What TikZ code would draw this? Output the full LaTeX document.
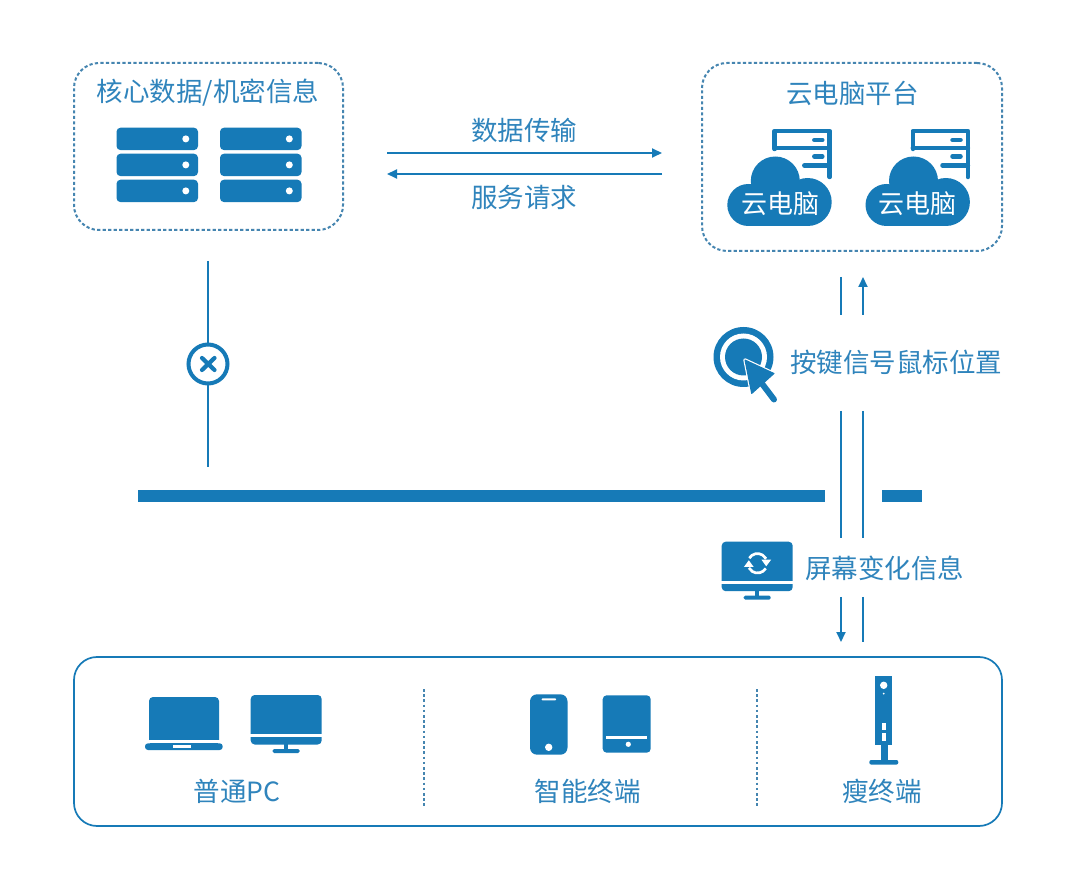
\documentclass[tikz,border=0pt]{standalone}
\usepackage{fontspec}
\setmainfont{Noto Sans CJK SC}
\usetikzlibrary{arrows.meta}
\definecolor{brand}{HTML}{167AB7}
\definecolor{labelblue}{HTML}{2F84BC}
\definecolor{dotline}{HTML}{4585B0}
\tikzset{
  label26/.style={text=labelblue,font=\fontsize{26.5}{30}\selectfont,inner sep=0pt},
  cloudtext/.style={text=white,font=\fontsize{26}{30}\selectfont,inner sep=0pt},
  dotbox/.style={draw=dotline,line width=2pt,dash pattern=on 3.2pt off 2.3pt,rounded corners=25pt,inner sep=0pt,outer sep=0pt},
  solidbox/.style={draw=brand,line width=1.7pt,rounded corners=23pt,inner sep=0pt,outer sep=0pt},
  divider/.style={draw=dotline,line width=1.6pt,dash pattern=on 2.6pt off 2.6pt},
  link/.style={draw=brand,line width=2pt},
  linkarrow/.style={link,-{Stealth[length=10pt,width=9pt,inset=0pt]}},
  barfill/.style={fill=brand,draw=none},
  % three stacked server units, origin at the upper-left corner
  rack/.pic={
    \foreach \yy in {0,26,52}{
      \fill[brand,rounded corners=4pt] (0,\yy) rectangle (81.5,\yy+22.4);
      \fill[white] (69.3,\yy+11.2) circle (3.5);
    }
  },
  % cloud in front of a server outline, origin at the cloud's left edge and bottom
  cloudhost/.pic={
    \draw[brand,line width=4.5pt,line cap=round,line join=round]
      (47.3,-77) -- (47.3,-95) -- (102.4,-95) -- (102.4,-49);
    \draw[brand,line width=4.5pt,line cap=round] (47.3,-78) -- (102.4,-78);
    \draw[brand,line width=4.5pt,line cap=round] (77,-60.5) -- (102.4,-60.5);
    \draw[brand,line width=4.5pt,line cap=round] (87,-86) -- (95,-86);
    \draw[brand,line width=4.5pt,line cap=round] (87,-69.5) -- (95,-69.5);
    \fill[white] (21,-21) circle (24.5);
    \fill[white] (48,-46) circle (28);
    \fill[white] (80.4,-24) circle (27.5);
    \fill[brand] (21,-21) circle (21);
    \fill[brand] (48,-45) circle (24.5);
    \fill[brand] (80.4,-24) circle (24);
    \fill[brand] (21,-30) rectangle (80.4,0);
  },
  % desktop display, origin at the upper-left corner
  display/.pic={
    \fill[brand,rounded corners=4pt] (0,0) rectangle (71,49.5);
    \fill[white] (-1,39.3) rectangle (72,41.9);
    \fill[brand] (33.6,49) rectangle (37.4,55);
    \fill[brand,rounded corners=1.5pt] (22,54) rectangle (49,58);
  }
}
\begin{document}
\begin{tikzpicture}[x=1pt,y=-1pt]
\useasboundingbox (0,0) rectangle (1080,874);
\fill[white] (0,0) rectangle (1080,874);

% frames
\node[dotbox,minimum width=269pt,minimum height=167pt] (secure) at (208.5,146.5) {};
\node[dotbox,minimum width=300pt,minimum height=188pt] (platform) at (852,157) {};
\node[solidbox,minimum width=928pt,minimum height=169pt] (terminals) at (538,741.5) {};

% titles
\node[label26] (securetitle) at (208,92.5) {核心数据/机密信息};
\node[label26] (platformtitle) at (852.5,93.5) {云电脑平台};

% racks of the data store
\pic at (116.5,127.7) {rack};
\pic at (220,127.7) {rack};

% cloud computers
\pic at (727.3,226) {cloudhost};
\pic at (865.5,226) {cloudhost};
\node[cloudtext] (cloudA) at (780,204) {云电脑};
\node[cloudtext] (cloudB) at (917,204) {云电脑};

% exchange between the store and the platform
\coordinate (txL) at (387,153);
\coordinate (txR) at (662,153);
\coordinate (rqL) at (387,174);
\coordinate (rqR) at (662,174);
\draw[linkarrow] (txL) -- (txR);
\draw[linkarrow] (rqR) -- (rqL);
\node[label26] (txlabel) at (524,130.5) {数据传输};
\node[label26] (rqlabel) at (524,197.5) {服务请求};

% blocked path from the store
\node[circle,draw=brand,line width=4pt,minimum size=39pt,inner sep=0pt,outer sep=0pt] (blocked) at (208,364) {};
\draw[brand,line width=4.2pt,line cap=round] (202,358) -- (214.5,370) (214.5,358) -- (202,370);
\coordinate (blockTop) at (208,261);
\coordinate (blockBot) at (208,467);
\draw[link] (blockTop) -- (blocked);
\draw[link] (blocked) -- (blockBot);

% network barrier
\fill[barfill] (138,490) rectangle (824.5,502.5);
\fill[barfill] (882.3,490) rectangle (921.7,502.5);

% control signal and screen update channels
\coordinate (a1) at (841,277);
\coordinate (a2) at (841,315);
\coordinate (b1) at (863,315);
\coordinate (b2) at (863,277);
\coordinate (a3) at (841,411);
\coordinate (a4) at (841,538);
\coordinate (b3) at (863,411);
\coordinate (b4) at (863,538);
\coordinate (a5) at (841,597);
\coordinate (a6) at (841,642);
\coordinate (b5) at (863,597);
\coordinate (b6) at (863,642);
\draw[link] (a1) -- (a2);
\draw[linkarrow] (b1) -- (b2);
\draw[link] (a3) -- (a4);
\draw[link] (b3) -- (b4);
\draw[linkarrow] (a5) -- (a6);
\draw[link] (b5) -- (b6);

% click target and pointer
\fill[brand] (743.5,357) circle (30);
\fill[white] (743.5,357) circle (23.5);
\fill[brand] (743.5,357) circle (18.5);
\fill[white,draw=white,line width=3.4pt,line join=round] (745,360) -- (774,373.5) -- (751.7,393.5) -- cycle;
\draw[white,line width=10pt,line cap=round] (761,381) -- (774,399);
\fill[brand,draw=brand,line width=1pt,line join=round] (745,360) -- (774,373.5) -- (751.7,393.5) -- cycle;
\draw[brand,line width=6pt,line cap=round] (760,381) -- (774,399.5);
\node[label26] (keylabel) at (896,362.5) {按键信号鼠标位置};

% display with refresh symbol
\pic at (721.7,541.7) {display};
\draw[white,line width=2.7pt] (757.5,563.3) ++(212:9.7) arc[start angle=212,end angle=332,radius=9.7];
\fill[white] (761.4,559.6) -- (771.2,559.6) -- (766.2,566.3) -- cycle;
\draw[white,line width=2.7pt] (757.5,563.3) ++(32:9.7) arc[start angle=32,end angle=152,radius=9.7];
\fill[white] (743.9,567) -- (753.7,567) -- (748.8,560.3) -- cycle;
\node[label26] (screenlabel) at (884.5,568.5) {屏幕变化信息};

% separators inside the terminal frame
\coordinate (d1t) at (424,689);
\coordinate (d1b) at (424,807);
\coordinate (d2t) at (757,689);
\coordinate (d2b) at (757,807);
\draw[divider] (d1t) -- (d1b);
\draw[divider] (d2t) -- (d2b);

% laptop
\fill[brand,rounded corners=4pt] (149,697) rectangle (219,745);
\fill[white] (147,740) rectangle (221,743.3);
\fill[brand,rounded corners=3pt] (145,743.3) rectangle (222.7,750);
\fill[white] (173.3,745) rectangle (191,748);

% desktop
\pic at (250.7,695) {display};

% phone
\fill[brand,rounded corners=7pt] (530,694.3) rectangle (567.5,754.7);
\fill[white,rounded corners=0.8pt] (541.7,698.3) rectangle (556,700.4);
\fill[white] (548.7,747.3) circle (3.7);

% tablet
\fill[brand,rounded corners=4pt] (602.7,695.3) rectangle (650.7,752.7);
\fill[white] (606,736) rectangle (647,738.6);
\fill[white] (628.3,744.3) circle (2.6);

% thin client tower
\fill[brand] (875,676) rectangle (892.3,745);
\fill[white] (883.7,685.3) circle (3.7);
\fill[white] (883.7,693.7) circle (1);
\fill[white] (882,722.7) rectangle (885.5,730);
\fill[white] (882,733.3) rectangle (885.5,740.7);
\fill[brand] (881,745) rectangle (887.5,761);
\fill[brand,rounded corners=2pt] (869.3,760) rectangle (898.3,764.6);

% terminal captions
\node[label26] (pclabel) at (237,791.5) {普通PC};
\node[label26] (smartlabel) at (587.5,791.5) {智能终端};
\node[label26] (thinlabel) at (882,791.5) {瘦终端};
\end{tikzpicture}
\end{document}
